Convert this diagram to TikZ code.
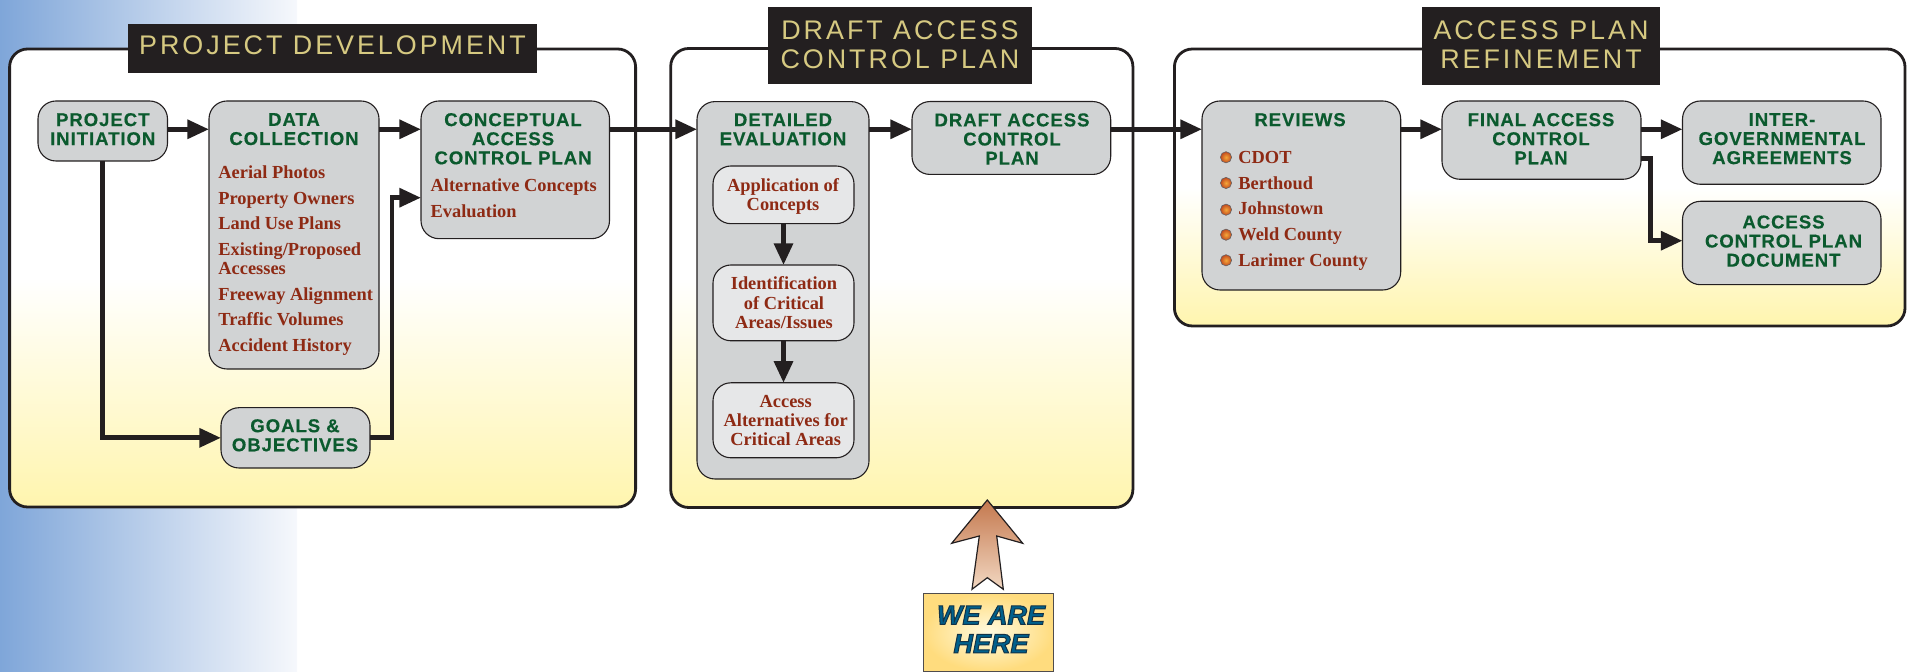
\documentclass[tikz,border=0pt]{standalone}
\usepackage{fontspec}
\usetikzlibrary{arrows.meta}
\newfontfamily\titlefont[LetterSpace=11]{Liberation Sans}
\newfontfamily\headfont[LetterSpace=5,BoldFeatures={FakeBold=.4}]{Liberation Sans}
\newfontfamily\listfont{Liberation Serif}
\newfontfamily\herefont{Liberation Sans}
\newcommand{\outlined}[1]{\special{pdf:code 2 Tr .5 w .07 .2 .28 RG}#1\special{pdf:code 0 Tr}}
\definecolor{bgBlue}{HTML}{7FA6D9}
\definecolor{bgPale}{HTML}{F6F8FC}
\definecolor{panelYellow}{HTML}{FFF5AE}
\definecolor{lineBlack}{HTML}{231F20}
\definecolor{titleGold}{HTML}{D6C981}
\definecolor{boxGray}{HTML}{D1D3D4}
\definecolor{boxPale}{HTML}{E6E7E8}
\definecolor{headGreen}{HTML}{0B5A2E}
\definecolor{listRed}{HTML}{8E2A14}
\definecolor{hereBlue}{HTML}{00608C}
\definecolor{arrowTop}{HTML}{C4784E}
\definecolor{arrowEnd}{HTML}{F2D8C2}
\definecolor{hereEdge}{HTML}{FFDC7E}
\definecolor{hereMid}{HTML}{FFFAE0}
\definecolor{dotMid}{HTML}{F5A83A}
\definecolor{dotEdge}{HTML}{C2491E}
\pgfdeclareverticalshading{panelShade}{100bp}{color(0bp)=(panelYellow); color(25bp)=(panelYellow); color(50bp)=(white); color(100bp)=(white)}
\tikzset{
	sized/.style 2 args={minimum width={#1*.5pt},minimum height={#2*.5pt}},
	panelbox/.style={draw=lineBlack,line width=1.4pt,rounded corners=9pt,shading=panelShade,inner sep=0,outer sep=0},
	titlebar/.style={fill=lineBlack,inner sep=0,outer sep=0},
	titletext/.style={text=titleGold,font=\titlefont\fontsize{13.45}{14.6}\selectfont,align=center,anchor=north,inner sep=0},
	graybox/.style={draw=lineBlack,line width=.55pt,fill=boxGray,rounded corners=9pt,inner sep=0,outer sep=0},
	palebox/.style={graybox,fill=boxPale},
	headtext/.style={text=headGreen,font=\headfont\bfseries\fontsize{9.3}{9.55}\selectfont,align=center,anchor=north,inner sep=0},
	listtext/.style={text=listRed,font=\listfont\bfseries\fontsize{9.2}{9.6}\selectfont,inner sep=0},
	dotball/.style={circle,draw=lineBlack!70,line width=.3pt,inner color=dotMid,outer color=dotEdge,minimum size=5.6pt,inner sep=0},
	flow/.style={draw=lineBlack,line width=2.4pt,-{Triangle[length=10.8pt,width=9.2pt]}}
}
\begin{document}
\begin{tikzpicture}[x=.5pt,y=-.5pt]
	\useasboundingbox (0,0) rectangle (1910,672);
	% backdrop
	\fill[left color=bgBlue,right color=bgPale] (0,0) rectangle (297,672);
	% the three panels
	\node[panelbox,sized={626}{458}] (projPanel) at (322.6,278) {};
	\node[panelbox,sized={462.2}{459}] (draftPanel) at (901.8,278) {};
	\node[panelbox,sized={730.6}{277}] (refinePanel) at (1539.7,187.5) {};
	\node[titlebar,sized={409}{48.7}] (projTitle) at (332.5,48.35) {};
	\node[titlebar,sized={264}{77}] (draftTitle) at (900,45.5) {};
	\node[titlebar,sized={238}{78}] (refineTitle) at (1541,46) {};
	\node[titletext] (projTitleText) at (332.5,35.7) {PROJECT DEVELOPMENT};
	\node[titletext] (draftTitleText) at (900,20) {DRAFT ACCESS\\CONTROL PLAN};
	\node[titletext] (refineTitleText) at (1541,20) {ACCESS PLAN\\REFINEMENT};
	% boxes
	\node[graybox,sized={129.5}{60}] (projInit) at (102.75,131) {};
	\node[graybox,sized={170}{268}] (dataColl) at (294,235) {};
	\node[graybox,sized={188.5}{137.7}] (concept) at (515.25,169.85) {};
	\node[graybox,sized={149}{60.3}] (goals) at (295.5,437.85) {};
	\node[graybox,sized={172}{377.4}] (detEval) at (783,290.3) {};
	\node[graybox,sized={198.7}{72.9}] (draftPlan) at (1011.35,138) {};
	\node[palebox,sized={141}{57.7}] (appConcept) at (783.5,194.85) {};
	\node[palebox,sized={141}{75.8}] (identCrit) at (783.5,302.9) {};
	\node[palebox,sized={141}{75}] (accAlt) at (783.5,420.3) {};
	\node[graybox,sized={198.7}{189}] (reviews) at (1301.35,195.5) {};
	\node[graybox,sized={199}{78.3}] (finalPlan) at (1541.5,140.15) {};
	\node[graybox,sized={198.5}{83.3}] (interGov) at (1781.75,142.65) {};
	\node[graybox,sized={198.5}{83.4}] (planDoc) at (1781.75,243) {};
	% connectors
	\coordinate (flowLine) at (0,129.3);
	\coordinate (goalsIn) at (0,197.7);
	\coordinate (docOut) at (0,158.7);
	\coordinate (docIn) at (0,240.7);
	\draw[flow] (projInit.east |- flowLine) -- (dataColl.west |- flowLine);
	\draw[flow] (dataColl.east |- flowLine) -- (concept.west |- flowLine);
	\draw[flow] (concept.east |- flowLine) -- (detEval.west |- flowLine);
	\draw[flow] (detEval.east |- flowLine) -- (draftPlan.west |- flowLine);
	\draw[flow] (draftPlan.east |- flowLine) -- (reviews.west |- flowLine);
	\draw[flow] (reviews.east |- flowLine) -- (finalPlan.west |- flowLine);
	\draw[flow] (finalPlan.east |- flowLine) -- (interGov.west |- flowLine);
	\draw[flow] (projInit.south) |- (goals.west);
	\draw[flow] (goals.east) -- ++(22,0) |- (concept.west |- goalsIn);
	\draw[flow] (finalPlan.east |- docOut) -- ++(9.4,0) |- (planDoc.west |- docIn);
	\draw[flow] (appConcept) -- (identCrit);
	\draw[flow] (identCrit) -- (accAlt);
	% headings
	\node[headtext] (projInitText) at (102.75,112.7) {PROJECT\\INITIATION};
	\node[headtext] (dataCollText) at (294,112.7) {DATA\\COLLECTION};
	\node[headtext] (conceptText) at (513,112.7) {CONCEPTUAL\\ACCESS\\CONTROL PLAN};
	\node[headtext] (goalsText) at (295,418.8) {GOALS \&\\OBJECTIVES};
	\node[headtext] (detEvalText) at (783,113) {DETAILED\\EVALUATION};
	\node[headtext] (draftPlanText) at (1012,113) {DRAFT ACCESS\\CONTROL\\PLAN};
	\node[headtext] (reviewsText) at (1300,112.7) {REVIEWS};
	\node[headtext] (finalPlanText) at (1541,112.7) {FINAL ACCESS\\CONTROL\\PLAN};
	\node[headtext] (interGovText) at (1782,112.7) {INTER-\\GOVERNMENTAL\\AGREEMENTS};
	\node[headtext] (planDocText) at (1783.5,215) {ACCESS\\CONTROL PLAN\\DOCUMENT};
	% lists
	\foreach \y/\txt [count=\n] in {178.2/Aerial Photos,204.2/Property Owners,229.2/Land Use Plans,255.2/{Existing/Proposed},274.2/Accesses,300.2/Freeway Alignment,325.2/Traffic Volumes,351.2/Accident History}
		\node[listtext,anchor=base west] (dataItem\n) at (218,\y) {\txt};
	\node[listtext,anchor=base west] (conceptItemA) at (430.3,192) {Alternative Concepts};
	\node[listtext,anchor=base west] (conceptItemB) at (430.3,217.7) {Evaluation};
	\node[listtext,align=center,anchor=north] (appConceptText) at (783,178) {Application of\\Concepts};
	\node[listtext,align=center,anchor=north] (identCritText) at (784,276.6) {Identification\\of Critical\\Areas/Issues};
	\node[listtext,align=center,anchor=north] (accAltText) at (785.7,395) {Access\\Alternatives for\\Critical Areas};
	\foreach \y/\d/\txt [count=\n] in {163.3/157.3/CDOT,189.3/183/Berthoud,215/209.7/Johnstown,240.7/234.7/Weld County,266.7/260.3/Larimer County}{
		\node[dotball] (reviewDot\n) at (1226,\d) {};
		\node[listtext,anchor=base west] (reviewItem\n) at (1238,\y) {\txt};
	}
	% we are here
	\draw[draw=lineBlack,line width=.6pt,top color=arrowTop,bottom color=arrowEnd]
		(987.3,500) -- (1022.7,543.3) -- (996.7,536) -- (1003.3,589.3) -- (987.3,577.7) -- (972,589.3) -- (979.3,536) -- (951.7,543.3) -- cycle;
	\node[draw=lineBlack!80,line width=.8pt,inner color=hereMid,outer color=hereEdge,sized={130}{77.6},inner sep=0,outer sep=0] (hereBox) at (988.3,632.5) {};
	\node[text=hereBlue,font=\herefont\bfseries\itshape\fontsize{13.5}{14.2}\selectfont,align=center,anchor=north,inner sep=0] (hereText) at (991,605.5) {\outlined{WE ARE}\\\outlined{HERE}};
\end{tikzpicture}
\end{document}
